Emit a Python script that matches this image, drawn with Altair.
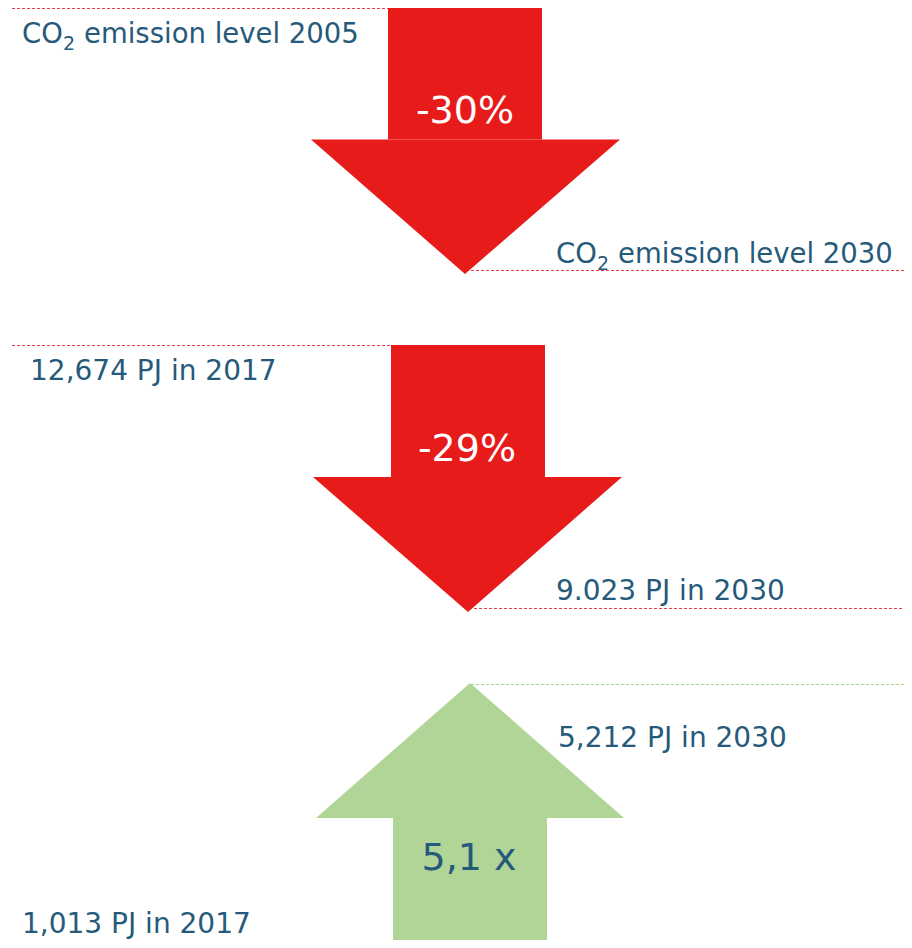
import altair as alt
import pandas as pd

# ---- data ----
arrow_names = ["co2", "energy", "renewable"]
arrow_dirs = ["down", "down", "up"]
arrow_colors = ["#E81B1B", "#E81B1B", "#B1D597"]
change_labels = ["-30%", "-29%", "5,1 x"]
change_colors = ["#FFFFFF", "#FFFFFF", "#265A7A"]
start_labels = ["CO|2| emission level 2005", "12,674 PJ in 2017", "1,013 PJ in 2017"]
end_labels = ["CO|2| emission level 2030", "9.023 PJ in 2030", "5,212 PJ in 2030"]

# ---- layout (screen pixels) ----
cx = [465, 468, 470]
shaft_l = [388, 391, 393]
shaft_r = [542, 545, 547]
head_l = [311, 313, 316]
head_r = [620, 622, 624]
start_y = [7, 345, 948]     # shaft end
head_y = [139.5, 477, 818]  # head base
tip_y = [274, 612, 683]
line_y_start = [8.5, 345.5, None]
line_y_end = [270.5, 608.5, 684.5]
line_colors = ["#EC3A40", "#EC3A40", "#A9D48D"]

TEXT = "#265A7A"
FONT = "DejaVu Sans"
LABEL_SIZE = 28
SUB_SIZE = 19

X0, X1, Y0, Y1 = 8, 904, 8, 940
xs = alt.Scale(domain=[X0, X1])
ys = alt.Scale(domain=[Y0, Y1], reverse=True)

shafts, tris, rules = [], [], []
for i, n in enumerate(arrow_names):
    shafts.append(dict(a=n, x=shaft_l[i], x2=shaft_r[i], y=start_y[i], y2=head_y[i], c=arrow_colors[i]))
    for xv, yv2 in [(head_l[i], head_y[i]), (cx[i], tip_y[i]), (head_r[i], head_y[i])]:
        tris.append(dict(a=n, x=xv, y=head_y[i], y2=yv2, c=arrow_colors[i]))
    if line_y_start[i] is not None:
        rules.append(dict(a=n, x=12, x2=shaft_l[i], y=line_y_start[i], c=line_colors[i]))
    rules.append(dict(a=n, x=cx[i] + 1, x2=912, y=line_y_end[i], c=line_colors[i]))

df_shaft = pd.DataFrame(shafts)
df_tri = pd.DataFrame(tris)
df_rule = pd.DataFrame(rules)


def label_rows(label, x, y, size=LABEL_SIZE, color=TEXT, align="left"):
    """Split 'CO|2| rest' style labels into main text and subscript pieces."""
    if "|" not in label:
        return [dict(t=label, x=x, y=y, c=color, s=size, al=align)]
    pre, sub, post = label.split("|")
    return [
        dict(t=pre, x=x, y=y, c=color, s=27.5, al=align),
        dict(t=sub, x=x + 41, y=y + 7, c=color, s=SUB_SIZE, al=align),
        dict(t=post.strip(), x=x + 62, y=y, c=color, s=27.5, al=align),
    ]


rows = []
rows += label_rows(start_labels[0], 22, 43)
rows += label_rows(end_labels[0], 556, 263)
rows += label_rows(start_labels[1], 30, 380)
rows += label_rows(end_labels[1], 556, 600)
rows += label_rows(end_labels[2], 558, 747)
rows += label_rows(start_labels[2], 22, 933)
rows += label_rows(change_labels[0], 465, 123, 38, change_colors[0], "center")
rows += label_rows(change_labels[1], 467, 461, 38, change_colors[1], "center")
rows += label_rows(change_labels[2], 469, 870, 38, change_colors[2], "center")
df_text = pd.DataFrame(rows)

shaft = alt.Chart(df_shaft).mark_rect().encode(
    x=alt.X("x:Q", scale=xs, axis=None), x2="x2:Q",
    y=alt.Y("y:Q", scale=ys, axis=None), y2="y2:Q",
    color=alt.Color("c:N", scale=None),
)

heads = []
for n in arrow_names:
    heads.append(
        alt.Chart(df_tri[df_tri.a == n]).mark_area(interpolate="linear").encode(
            x=alt.X("x:Q", scale=xs, axis=None),
            y=alt.Y("y:Q", scale=ys, axis=None), y2="y2:Q",
            color=alt.Color("c:N", scale=None),
        )
    )

rule = alt.Chart(df_rule).mark_rule(strokeWidth=1, strokeDash=[3, 2]).encode(
    x=alt.X("x:Q", scale=xs, axis=None), x2="x2:Q",
    y=alt.Y("y:Q", scale=ys, axis=None),
    color=alt.Color("c:N", scale=None),
)

text_layers = []
for al in ["left", "center"]:
    text_layers.append(
        alt.Chart(df_text[df_text.al == al]).mark_text(
            align=al, baseline="alphabetic", font=FONT
        ).encode(
            x=alt.X("x:Q", scale=xs, axis=None),
            y=alt.Y("y:Q", scale=ys, axis=None),
            text="t:N",
            color=alt.Color("c:N", scale=None),
            size=alt.Size("s:Q", scale=None, legend=None),
        )
    )

chart = alt.layer(rule, shaft, *heads, *text_layers).properties(
    width=X1 - X0, height=Y1 - Y0,
    padding=0,
    autosize=alt.AutoSizeParams(type="none"),
    background="white",
).configure_view(stroke=None)

chart.save("out.html", embed_options={"renderer": "svg", "actions": False})
